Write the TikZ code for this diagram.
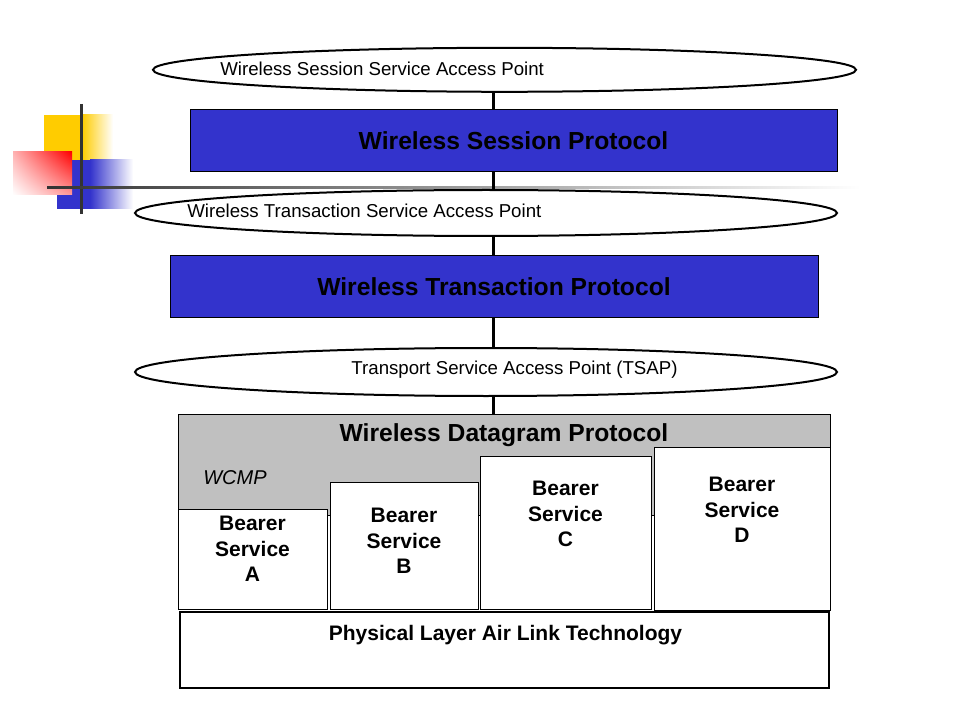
\documentclass[tikz,border=0pt]{standalone}
\usepackage{fontspec}
\setmainfont{Liberation Sans}
\usetikzlibrary{shapes.geometric,shadings}
\definecolor{wapblue}{HTML}{3333CC}
\definecolor{wapgray}{HTML}{C0C0C0}
\definecolor{wapyellow}{HTML}{FFCC00}
\definecolor{decogray}{HTML}{333333}
\begin{document}
\begin{tikzpicture}[x=0.75pt, y=-0.75pt,
            sap/.style={draw, ellipse, line width=1.5pt, fill=white, inner sep=0pt},
            saptext/.style={inner sep=0pt, font=\fontsize{14pt}{16pt}\selectfont},
            layer/.style={draw, line width=0.75pt, inner sep=0pt, font=\bfseries\fontsize{18.5pt}{22pt}\selectfont},
            bearer/.style={draw, line width=0.9pt, fill=white, anchor=south west, inner sep=0pt},
            bearertext/.style={align=center, inner sep=0pt, font=\bfseries\fontsize{15.75pt}{19pt}\selectfont},
            link/.style={line width=2.25pt}]
            \useasboundingbox (0,0) rectangle (960,720);
            % corner ornament
            \fill[wapyellow] (44,115) rectangle (82,160);
            \shade[left color=wapyellow, right color=white] (82,115) rectangle (113,160);
            \fill[wapblue] (57,160) rectangle (90,209);
            \shade[left color=wapblue, right color=white] (90,160) rectangle (133,209);
            \shade[upper left=red!30!white, upper right=red, lower left=white, lower right=red!40!white] (13,152) rectangle (72,195);
            \draw[decogray, line width=2.25pt] (81,104) -- (81,214);
            \shade[left color=decogray, middle color=decogray!75!white, right color=white] (47,186.5) rectangle (860,189);
            \coordinate (spine) at (493.5,0);
            % access points and layers
            \node[sap, minimum width=527.25pt, minimum height=33pt] (wssap) at (504.5,69.8) {};
            \node[saptext, anchor=west] (wssaptext) at (220,68.5) {Wireless Session Service Access Point};
            \node[layer, fill=wapblue, minimum width=485.25pt, minimum height=46.5pt] (wsp) at (513.5,141) {Wireless Session Protocol};
            \node[sap, minimum width=526.5pt, minimum height=34.5pt] (wtsap) at (486,213) {};
            \node[saptext, anchor=west] (wtsaptext) at (187,211) {Wireless Transaction Service Access Point};
            \node[layer, fill=wapblue, minimum width=486pt, minimum height=45.75pt] (wtp) at (494,286.5) {Wireless Transaction Protocol};
            \node[sap, minimum width=526.5pt, minimum height=36pt] (tsap) at (486,372) {};
            \node[saptext] (tsaptext) at (514.5,370) {Transport Service Access Point (TSAP)};
            \node[layer, fill=wapgray, minimum width=489pt, minimum height=75.75pt] (wdp) at (504,464.5) {};
            \node[layer, draw=none, anchor=base] (wdptext) at (504,441) {Wireless Datagram Protocol};
            \node[inner sep=0pt, anchor=base, font=\itshape\fontsize{15pt}{18pt}\selectfont] (wcmp) at (235,484) {WCMP};
            \draw[link] (wssap.south -| spine) -- (wsp.north -| spine);
            \draw[link] (wsp.south -| spine) -- (wtsap.north -| spine);
            \draw[link] (wtsap.south -| spine) -- (wtp.north -| spine);
            \draw[link] (wtp.south -| spine) -- (tsap.north -| spine);
            \draw[link] (tsap.south -| spine) -- (wdp.north -| spine);
            % bearers
            \node[bearer, minimum width=111.75pt, minimum height=75pt] (bsa) at (178,610) {};
            \node[bearer, minimum width=111pt, minimum height=95.25pt] (bsb) at (330,610) {};
            \node[bearer, minimum width=128.25pt, minimum height=114.75pt] (bsc) at (480,610) {};
            \node[bearer, minimum width=132pt, minimum height=122.25pt] (bsd) at (654,611) {};
            \node[bearertext] (bsatext) at (252.5,549) {Bearer\\Service\\A};
            \node[bearertext] (bsbtext) at (404,541) {Bearer\\Service\\B};
            \node[bearertext] (bsctext) at (565.5,514) {Bearer\\Service\\C};
            \node[bearertext] (bsdtext) at (742,510) {Bearer\\Service\\D};
            \node[draw, line width=0.9pt, minimum width=486.75pt, minimum height=57pt] (phy) at (504.5,650) {};
            \node[bearertext, anchor=base] (phytext) at (505.5,640.5) {Physical Layer Air Link Technology};
\end{tikzpicture}
\end{document}
